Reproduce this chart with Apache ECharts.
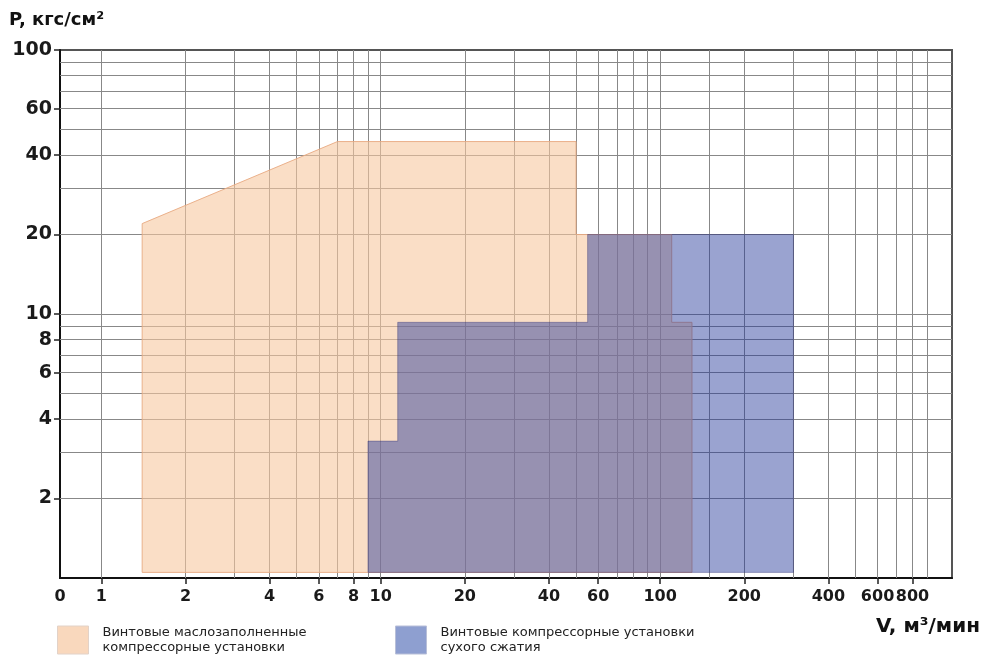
<!DOCTYPE html>
<html>
<head>
<meta charset="utf-8">
<script src="https://cdn.jsdelivr.net/npm/echarts@6/dist/echarts.min.js"></script>
<style>
html,body{margin:0;padding:0;background:#fff;}
#chart{width:984px;height:655px;}
</style>
</head>
<body>
<div id="chart"></div>
<script>
// ---- data ----
const seriesNames = [
  'Винтовые маслозаполненные\nкомпрессорные установки',
  'Винтовые компрессорные установки\nсухого сжатия'
];
// Oil-flooded screw compressors: outline of the working area (V, P)
const oilFlow     = [1.4, 1.4, 7,  50, 50, 110, 110, 130, 130];
const oilPressure = [1.05, 22, 45, 45, 20, 20,  9.3, 9.3, 1.05];
// Dry screw compressors: outline of the working area (V, P)
const dryFlow     = [9,    9,   11.5, 11.5, 55,  55, 300, 300];
const dryPressure = [1.05, 3.3, 3.3,  9.3,  9.3, 20, 20,  1.05];
// Axis ticks / grid
const xTickLabels = [1, 2, 4, 6, 8, 10, 20, 40, 60, 100, 200, 400, 600, 800];
const yTickLabels = [2, 4, 6, 8, 10, 20, 40, 60, 100];
const xGridValues = [1,2,3,4,5,6,7,8,9,10,20,30,40,50,60,70,80,90,100,150,200,300,400,500,600,700,800,900];
const yGridValues = [2,3,4,5,6,7,8,9,10,20,30,40,50,60,70,80,90];
const xRange = [0.7113, 1108];
const yRange = [1, 100];

const FONT = '"DejaVu Sans", "Open Sans", sans-serif';
const chart = echarts.init(document.getElementById('chart'), null, {renderer: 'canvas'});

function polygonSeries(name, xs, ys, fill, stroke, z) {
  return {
    type: 'custom',
    name: name,
    z: z,
    coordinateSystem: 'cartesian2d',
    silent: true,
    data: xs.map((x, i) => [x, ys[i]]),
    encode: {x: 0, y: 1},
    itemStyle: {color: fill},
    renderItem: function (params, api) {
      if (params.dataIndex !== 0) return null;
      const pts = [];
      for (let i = 0; i < xs.length; i++) {
        pts.push(api.coord([api.value(0, i), api.value(1, i)]));
      }
      return {
        type: 'polygon',
        shape: {points: pts},
        style: {fill: fill, stroke: stroke, lineWidth: 1}
      };
    }
  };
}

const option = {
  animation: false,
  backgroundColor: '#ffffff',
  grid: {
    left: 60, right: 32, top: 50, bottom: 77,
    show: true, borderColor: '#555', borderWidth: 2, backgroundColor: 'transparent'
  },
  xAxis: {
    type: 'log', logBase: 10, min: xRange[0], max: xRange[1],
    axisLine: {show: true, onZero: false, lineStyle: {color: '#111', width: 2}},
    axisTick: {show: true, customValues: xTickLabels, length: 6, lineStyle: {color: '#222', width: 1.5}},
    axisLabel: {
      customValues: [xRange[0]].concat(xTickLabels),
      formatter: function (v) { return v < 1 ? '0' : String(Math.round(v)); },
      hideOverlap: false, showMaxLabel: true, showMinLabel: true, interval: 0,
      margin: 11, color: '#1a1a1a', fontSize: 16, fontWeight: 'bold', fontFamily: FONT
    },
    splitLine: {show: false}
  },
  yAxis: {
    type: 'log', logBase: 10, min: yRange[0], max: yRange[1],
    axisLine: {show: true, onZero: false, lineStyle: {color: '#111', width: 2}},
    axisTick: {show: true, customValues: yTickLabels, length: 6, lineStyle: {color: '#222', width: 1.5}},
    axisLabel: {
      customValues: yTickLabels,
      formatter: function (v) { return String(Math.round(v)); },
      margin: 8, color: '#1a1a1a', fontSize: 19, fontWeight: 'bold', fontFamily: FONT
    },
    splitLine: {show: false}
  },
  legend: [
    {
      left: 57, top: 625, padding: 0, itemWidth: 31, itemHeight: 28, icon: 'rect',
      selectedMode: false,
      data: [{name: seriesNames[0], itemStyle: {color: '#f9d8bd', borderColor: '#e2d2c8', borderWidth: 1}}],
      textStyle: {fontSize: 13, lineHeight: 15, color: '#222', fontFamily: FONT, padding: [0, 0, 0, 9]}
    },
    {
      left: 395, top: 625, padding: 0, itemWidth: 31, itemHeight: 28, icon: 'rect',
      selectedMode: false,
      data: [{name: seriesNames[1], itemStyle: {color: '#8e9fd0', borderColor: '#b8bfd8', borderWidth: 1}}],
      textStyle: {fontSize: 13, lineHeight: 15, color: '#222', fontFamily: FONT, padding: [0, 0, 0, 9]}
    }
  ],
  graphic: [
    {type: 'text', left: 9, top: 11, silent: true,
     style: {text: 'P, кгс/см²', font: 'bold 18px ' + FONT, fill: '#111'}},
    {type: 'text', right: 4, top: 617, silent: true,
     style: {text: 'V, м³/мин', font: 'bold 20px ' + FONT, fill: '#111'}}
  ],
  series: [
    {
      type: 'line', name: 'grid', data: [], silent: true, z: 1,
      markLine: {
        silent: true, symbol: 'none', z: 1, animation: false,
        label: {show: false},
        lineStyle: {color: '#888888', width: 1, type: 'solid'},
        emphasis: {disabled: true},
        data: xGridValues.map(v => ({xAxis: v})).concat(yGridValues.map(v => ({yAxis: v})))
      }
    },
    polygonSeries(seriesNames[0], oilFlow, oilPressure, 'rgba(246,200,160,0.6)', 'rgba(232,170,130,0.9)', 2),
    polygonSeries(seriesNames[1], dryFlow, dryPressure, 'rgba(30,50,150,0.45)', 'rgba(40,40,110,0.35)', 3)
  ]
};
chart.setOption(option);
</script>
</body>
</html>
